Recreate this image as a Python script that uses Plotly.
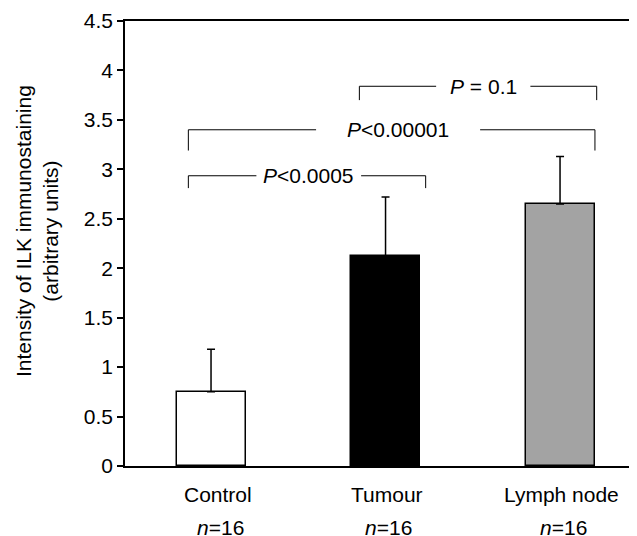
import plotly.graph_objects as go

# ---- data ----
categories = ["Control", "Tumour", "Lymph node"]
n_labels = ["<i>n</i>=16", "<i>n</i>=16", "<i>n</i>=16"]
means = [0.75, 2.12, 2.65]
sem = [0.43, 0.60, 0.48]
bar_colors = ["#ffffff", "#000000", "#a3a3a3"]
y_ticks = [0, 0.5, 1, 1.5, 2, 2.5, 3, 3.5, 4, 4.5]
y_tick_text = ["0", "0.5", "1", "1.5", "2", "2.5", "3", "3.5", "4", "4.5"]

# comparisons: (from index, to index, p-label)
comp_from = [0, 0, 1]
comp_to = [1, 2, 2]
comp_label = ["<i>P</i>&lt;0.0005", "<i>P</i>&lt;0.00001", "<i>P</i> = 0.1"]
comp_level = [2.935, 3.40, 3.84]
comp_drop = [2.81, 3.19, 3.70]

# styling of the brackets (offsets relative to the category positions)
left_off = [-0.13, -0.13, -0.15]
right_off = [0.23, 0.20, 0.21]
text_x = [0.56, 1.072, 1.56]
gap_half = [0.30, 0.47, 0.27]

FONT = "Liberation Sans, Arial, Helvetica, sans-serif"
FS = 21

x = list(range(len(categories)))

fig = go.Figure()
fig.add_trace(go.Bar(
    x=x, y=means, width=0.395,
    marker=dict(color=bar_colors, line=dict(color="black", width=1.5)),
    error_y=dict(type="data", array=sem, arrayminus=[0] * len(sem), symmetric=False,
                 color="black", thickness=1.5, width=4),
    showlegend=False, hoverinfo="skip",
))

shapes = []
annotations = []
for i in range(len(comp_label)):
    xl = comp_from[i] + left_off[i]
    xr = comp_to[i] + right_off[i]
    yl = comp_level[i]
    yd = comp_drop[i]
    tx = text_x[i]
    g = gap_half[i]
    line = dict(color="black", width=1)
    shapes.append(dict(type="line", xref="x", yref="y", x0=xl, x1=xl, y0=yd, y1=yl, line=line))
    shapes.append(dict(type="line", xref="x", yref="y", x0=xl, x1=tx - g, y0=yl, y1=yl, line=line))
    shapes.append(dict(type="line", xref="x", yref="y", x0=tx + g, x1=xr, y0=yl, y1=yl, line=line))
    shapes.append(dict(type="line", xref="x", yref="y", x0=xr, x1=xr, y0=yd, y1=yl, line=line))
    annotations.append(dict(x=tx, y=yl, xref="x", yref="y", text=comp_label[i], showarrow=False,
                            xanchor="center", yanchor="middle",
                            font=dict(family=FONT, size=FS, color="black")))

label_shift = [7, 1, 1]
for i, c in enumerate(categories):
    annotations.append(dict(x=i, y=-0.063, xref="x", yref="paper", text=c, showarrow=False,
                            xanchor="center", yanchor="middle", xshift=label_shift[i],
                            font=dict(family=FONT, size=FS, color="black")))
    annotations.append(dict(x=i, y=-0.139, xref="x", yref="paper", text=n_labels[i], showarrow=False,
                            xanchor="center", yanchor="middle", xshift=label_shift[i] + 2,
                            font=dict(family=FONT, size=FS, color="black")))

annotations.append(dict(x=-0.172, y=0.528, xref="paper", yref="paper",
                        text="Intensity of ILK immunostaining<br>(arbitrary units)",
                        showarrow=False, textangle=-90, xanchor="center", yanchor="middle",
                        font=dict(family=FONT, size=FS, color="black")))

# the page body adds an 8px margin; size the figure so it fits the 637x536 window
fig.update_layout(
    width=629, height=528,
    margin=dict(l=117, r=0, t=13, b=70),
    paper_bgcolor="white", plot_bgcolor="white",
    shapes=shapes, annotations=annotations,
    xaxis=dict(range=[-0.493, 2.441], showgrid=False, zeroline=False, showline=True,
               linecolor="black", linewidth=1.5, mirror=True, ticks="", showticklabels=False,
               fixedrange=True),
    yaxis=dict(range=[0, 4.5], tickvals=y_ticks, ticktext=y_tick_text, showgrid=False,
               zeroline=False, showline=True, linecolor="black", linewidth=1.5,
               ticks="outside", ticklen=6, tickwidth=1.5, tickcolor="black",
               tickfont=dict(family=FONT, size=FS, color="black"), fixedrange=True),
    bargap=0,
)

fig.write_html("out.html")
